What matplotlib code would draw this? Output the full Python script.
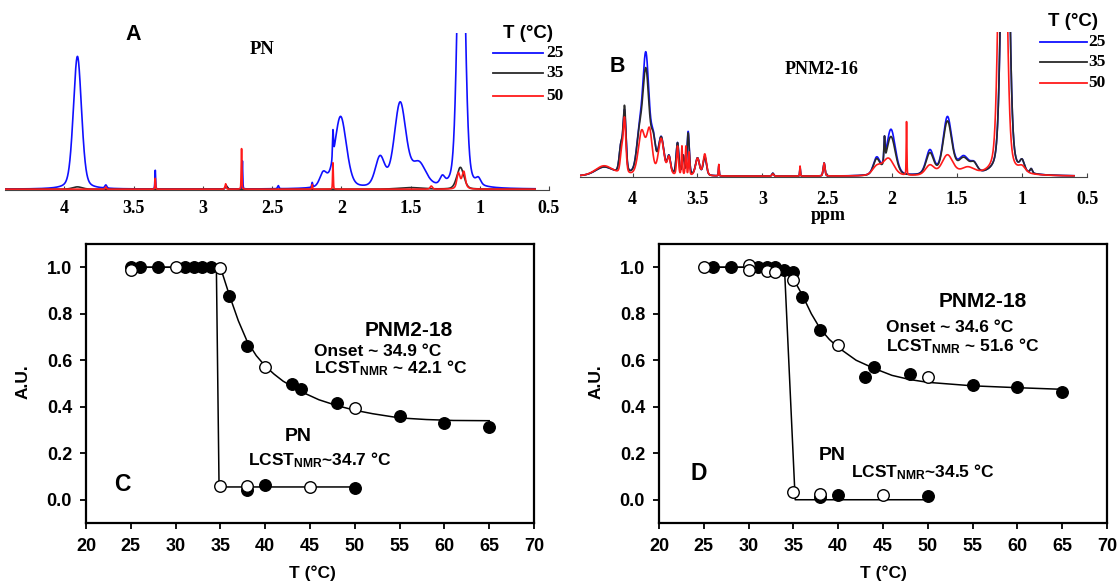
import numpy as np
import matplotlib
matplotlib.use('Agg')
import matplotlib.pyplot as plt
from matplotlib.lines import Line2D

plt.rcParams['mathtext.fontset'] = 'custom'
plt.rcParams['mathtext.rm'] = 'Liberation Sans:bold'
plt.rcParams['mathtext.default'] = 'rm'

# --------------------------
# Data: NMR peak tables (ppm, height, half-width)
# --------------------------
temps = ['25', '35', '50']
spec_colors = ['#1010ff', '#2a2a2a', '#ff1a1a']

pn_peaks_25 = [(3.905, 0.85, 0.035), (3.70, 0.02, 0.008), (3.343, 0.12, 0.003),
               (2.83, 0.02, 0.008), (2.714, 0.18, 0.003), (2.455, 0.02, 0.006),
               (2.21, 0.03, 0.004), (2.13, 0.09, 0.03), (2.06, 0.17, 0.004),
               (2.005, 0.46, 0.05), (1.72, 0.19, 0.04), (1.575, 0.54, 0.05),
               (1.44, 0.15, 0.06), (1.27, 0.05, 0.02), (1.134, 2.2, 0.03),
               (1.01, 0.04, 0.02)]
pn_peaks_35 = [(3.905, 0.015, 0.04), (2.83, 0.02, 0.01), (1.5, 0.01, 0.1),
               (1.14, 0.14, 0.03)]
pn_peaks_50 = [(3.70, 0.015, 0.005), (3.343, 0.07, 0.003), (2.835, 0.035, 0.005),
               (2.72, 0.26, 0.003), (2.21, 0.03, 0.003), (2.06, 0.17, 0.003),
               (1.35, 0.02, 0.01), (1.155, 0.08, 0.012), (1.115, 0.08, 0.012),
               (1.13, 0.04, 0.03)]

pnm_peaks_25 = [(4.22, 0.06, 0.08), (4.09, 0.18, 0.015), (4.062, 0.42, 0.013),
                (3.95, 0.22, 0.025), (3.898, 0.83, 0.03), (3.84, 0.2, 0.02),
                (3.78, 0.25, 0.025), (3.72, 0.12, 0.015), (3.654, 0.22, 0.012),
                (3.61, 0.13, 0.01), (3.572, 0.3, 0.01), (3.5, 0.12, 0.018),
                (3.444, 0.13, 0.015), (3.336, 0.07, 0.003), (2.92, 0.02, 0.008),
                (2.71, 0.06, 0.003), (2.525, 0.09, 0.008), (2.12, 0.12, 0.03),
                (2.06, 0.15, 0.005), (2.01, 0.32, 0.04), (1.71, 0.17, 0.035),
                (1.575, 0.40, 0.04), (1.45, 0.12, 0.05), (1.37, 0.06, 0.03),
                (1.13, 3.2, 0.03), (1.0, 0.07, 0.02), (0.93, 0.03, 0.01)]
pnm_peaks_35 = [(4.22, 0.06, 0.08), (4.09, 0.18, 0.015), (4.062, 0.45, 0.013),
                (3.95, 0.22, 0.025), (3.898, 0.72, 0.03), (3.84, 0.2, 0.02),
                (3.78, 0.25, 0.025), (3.72, 0.12, 0.015), (3.654, 0.22, 0.012),
                (3.61, 0.13, 0.01), (3.572, 0.29, 0.01), (3.5, 0.12, 0.018),
                (3.444, 0.13, 0.015), (3.336, 0.07, 0.003), (2.92, 0.02, 0.008),
                (2.71, 0.06, 0.003), (2.525, 0.09, 0.008), (2.12, 0.11, 0.03),
                (2.06, 0.17, 0.005), (2.01, 0.27, 0.04), (1.71, 0.15, 0.035),
                (1.575, 0.37, 0.04), (1.45, 0.11, 0.05), (1.37, 0.06, 0.03),
                (1.13, 3.2, 0.03), (1.0, 0.07, 0.02), (0.93, 0.03, 0.01)]
pnm_peaks_50 = [(4.22, 0.07, 0.08), (4.085, 0.14, 0.012), (4.062, 0.38, 0.012),
                (3.93, 0.3, 0.03), (3.87, 0.3, 0.025), (3.78, 0.25, 0.025),
                (3.72, 0.12, 0.015), (3.654, 0.2, 0.008), (3.62, 0.2, 0.005),
                (3.59, 0.2, 0.005), (3.565, 0.16, 0.005), (3.5, 0.12, 0.018),
                (3.444, 0.15, 0.015), (3.336, 0.08, 0.003), (2.92, 0.015, 0.008),
                (2.71, 0.07, 0.003), (2.525, 0.09, 0.008), (2.12, 0.06, 0.04),
                (2.03, 0.12, 0.05), (1.89, 0.37, 0.003), (1.71, 0.07, 0.04),
                (1.575, 0.14, 0.05), (1.42, 0.05, 0.06), (1.15, 3.2, 0.03),
                (1.0, 0.04, 0.03)]

# --------------------------
# Data: normalised intensity vs temperature
# --------------------------
c_pnm_fill_T = [25, 26, 28, 31, 32, 33, 34, 36, 38, 43, 44, 48, 55, 60, 65]
c_pnm_fill_y = [1.0, 1.0, 1.0, 1.0, 1.0, 1.0, 1.0, 0.875, 0.66, 0.50, 0.475, 0.415, 0.36, 0.33, 0.315]
c_pnm_open_T = [25, 30, 35, 40, 50]
c_pnm_open_y = [0.99, 1.0, 0.995, 0.57, 0.395]
c_pn_fill_T = [38, 40, 50]
c_pn_fill_y = [0.043, 0.062, 0.05]
c_pn_open_T = [35, 38, 45]
c_pn_open_y = [0.058, 0.058, 0.053]
c_fit_T = [25, 35, 36, 37, 38, 39, 40, 41, 42, 44, 46, 48, 50, 52, 55, 58, 61, 65]
c_fit_y = [1.0, 1.0, 0.88, 0.77, 0.68, 0.62, 0.575, 0.54, 0.51, 0.465, 0.43, 0.405,
           0.385, 0.37, 0.352, 0.345, 0.341, 0.34]
c_pn_line_T = [25, 34.55, 34.85, 50]
c_pn_line_y = [1.0, 1.0, 0.055, 0.055]

d_pnm_fill_T = [26, 28, 31, 32, 33, 34, 35, 36, 38, 43, 44, 48, 55, 60, 65]
d_pnm_fill_y = [1.0, 1.0, 1.0, 1.0, 1.0, 0.99, 0.98, 0.87, 0.73, 0.53, 0.57, 0.54, 0.493, 0.483, 0.465]
d_pnm_open_T = [25, 30, 30, 32, 33, 35, 40, 50]
d_pnm_open_y = [1.0, 1.01, 0.99, 0.985, 0.98, 0.945, 0.665, 0.527]
d_pn_fill_T = [38, 40, 50]
d_pn_fill_y = [0.012, 0.022, 0.014]
d_pn_open_T = [35, 38, 45]
d_pn_open_y = [0.033, 0.026, 0.022]
d_fit_T = [25, 34, 35, 36, 37, 38, 39, 40, 42, 44, 46, 48, 50, 55, 60, 65]
d_fit_y = [1.0, 1.0, 0.95, 0.88, 0.80, 0.735, 0.69, 0.655, 0.60, 0.565, 0.535, 0.517,
           0.505, 0.49, 0.482, 0.475]
d_pn_line_T = [25, 34.0, 35.2, 50]
d_pn_line_y = [1.0, 1.0, 0.0, 0.0]

# --------------------------
# Layout helpers (pixel boxes)
# --------------------------
W, H = 1119, 582
fig = plt.figure(figsize=(W / 100, H / 100), dpi=100)


def box(x0, y0, x1, y1):
    return [x0 / W, 1 - y1 / H, (x1 - x0) / W, (y1 - y0) / H]


def ftext(x, y, s, **kw):
    fig.text(x / W, 1 - y / H, s, **kw)


def spectrum(ppm, peaks, eta=0.3):
    out = np.zeros_like(ppm)
    for c, h, w in peaks:
        r = (ppm - c) / w
        out += h * (eta / (1 + r ** 2) + (1 - eta) * np.exp(-np.log(2) * r ** 2))
    return out


serif = dict(family='Liberation Serif', weight='bold')
sans = dict(family='Liberation Sans', weight='bold')

# --------------------------
# A and B: spectra
# --------------------------
spec_panels = [
    (box(5, 33, 549, 190), (4.428, 0.505), (4.428, 0.6), [pn_peaks_25, pn_peaks_35, pn_peaks_50], 7),
    (box(580, 32, 1087, 177), (4.405, 0.5), (4.405, 0.6), [pnm_peaks_25, pnm_peaks_35, pnm_peaks_50], 10),
]
for pos, xlim, prange, peak_sets, pad in spec_panels:
    ax = fig.add_axes(pos)
    ppm = np.linspace(prange[0], prange[1], 12000)
    for peaks, col in zip(peak_sets, spec_colors):
        ax.plot(ppm, spectrum(ppm, peaks), color=col, lw=1.2)
    ax.set_xlim(*xlim)
    ax.set_ylim(-0.005, 1.0)
    for s in ['top', 'left', 'right']:
        ax.spines[s].set_visible(False)
    ax.spines['bottom'].set_color('#444444')
    ax.set_yticks([])
    ax.set_xticks([4, 3.5, 3, 2.5, 2, 1.5, 1, 0.5])
    ax.set_xticklabels(['4', '3.5', '3', '2.5', '2', '1.5', '1', '0.5'], fontdict=serif, fontsize=13)
    ax.tick_params(axis='x', direction='in', length=3, pad=pad, color='#444444')
    ax.patch.set_alpha(0)

ftext(133, 34, 'A', fontsize=15.5, ha='center', va='center', **sans)
ftext(262, 50, 'PN', fontsize=13.5, ha='center', va='center', **serif)
ftext(617, 67, 'B', fontsize=15.5, ha='center', va='center', **sans)
ftext(822, 69, 'PNM2-16', fontsize=13, ha='center', va='center', **serif)
ftext(828, 216, 'ppm', fontsize=13, ha='center', va='center', **serif)

# legends
for hx, hy, lx0, lx1, ys, tx in [(528, 34, 493, 543, [53, 73, 96], 546),
                                  (1073, 22, 1040, 1087, [42, 62, 83], 1088)]:
    ftext(hx, hy, 'T (°C)', fontsize=13.5, ha='center', va='center', **sans)
    for yy, col, lab in zip(ys, spec_colors, temps):
        fig.add_artist(Line2D([lx0 / W, lx1 / W], [1 - yy / H, 1 - yy / H],
                              transform=fig.transFigure, color=col, lw=1.3))
        ftext(tx, yy, lab, fontsize=12.5, ha='left', va='center', **serif)

# --------------------------
# C and D: intensity vs T
# --------------------------
curve_panels = [
    (box(86, 244, 534, 523),
     (c_fit_T, c_fit_y), (c_pn_line_T, c_pn_line_y),
     (c_pnm_fill_T, c_pnm_fill_y), (c_pnm_open_T, c_pnm_open_y),
     (c_pn_fill_T, c_pn_fill_y), (c_pn_open_T, c_pn_open_y)),
    (box(659, 244, 1107, 523),
     (d_fit_T, d_fit_y), (d_pn_line_T, d_pn_line_y),
     (d_pnm_fill_T, d_pnm_fill_y), (d_pnm_open_T, d_pnm_open_y),
     (d_pn_fill_T, d_pn_fill_y), (d_pn_open_T, d_pn_open_y)),
]
axes_cd = []
for pos, fit, pnl, pf, po, nf, no in curve_panels:
    ax = fig.add_axes(pos)
    ax.plot(*fit, color='black', lw=1.1)
    ax.plot(*pnl, color='black', lw=1.1)
    for xs, ys in [pf, nf]:
        ax.plot(xs, ys, 'o', ms=8.3, mfc='black', mec='black', mew=1)
    for xs, ys in [po, no]:
        ax.plot(xs, ys, 'o', ms=8.3, mfc='white', mec='black', mew=1)
    ax.set_xlim(20, 70)
    ax.set_ylim(-0.1, 1.1)
    ax.set_xticks(range(20, 71, 5))
    ax.set_yticks([0.0, 0.2, 0.4, 0.6, 0.8, 1.0])
    ax.set_yticklabels(['0.0', '0.2', '0.4', '0.6', '0.8', '1.0'])
    for s in ax.spines.values():
        s.set_linewidth(1.6)
    ax.tick_params(direction='out', length=4, width=1.3, labelsize=13)
    ax.tick_params(axis='x', pad=7)
    ax.tick_params(axis='y', pad=6)
    for lab in ax.get_xticklabels() + ax.get_yticklabels():
        lab.set_fontfamily('Liberation Sans')
        lab.set_fontweight('bold')
    axes_cd.append(ax)

axC, axD = axes_cd

# panel C texts
axC.text(56.0, 0.729, 'PNM2-18', fontsize=15, ha='center', va='center', **sans)
axC.text(45.4, 0.639, 'Onset ~ 34.9 °C', fontsize=12.5, ha='left', va='center', **sans)
axC.text(45.4, 0.567, 'LCST$_{NMR}$ ~ 42.1 °C', fontsize=12.5, ha='left', va='center', **sans)
axC.text(43.7, 0.274, 'PN', fontsize=14, ha='center', va='center', **sans)
axC.text(38.1, 0.169, 'LCST$_{NMR}$~34.7 °C', fontsize=12.5, ha='left', va='center', **sans)
axC.text(24.0, 0.065, 'C', fontsize=16.5, ha='center', va='center', **sans)
ftext(23, 382, 'A.U.', fontsize=12.5, ha='center', va='center', rotation=90, **sans)
ftext(312, 573, 'T (°C)', fontsize=12.5, ha='center', va='center', **sans)

# panel D texts
axD.text(56.1, 0.851, 'PNM2-18', fontsize=15, ha='center', va='center', **sans)
axD.text(45.3, 0.739, 'Onset ~ 34.6 °C', fontsize=12.5, ha='left', va='center', **sans)
axD.text(45.3, 0.659, 'LCST$_{NMR}$ ~ 51.6 °C', fontsize=12.5, ha='left', va='center', **sans)
axD.text(39.3, 0.192, 'PN', fontsize=14, ha='center', va='center', **sans)
axD.text(41.4, 0.12, 'LCST$_{NMR}$~34.5 °C', fontsize=12.5, ha='left', va='center', **sans)
axD.text(24.4, 0.111, 'D', fontsize=16.5, ha='center', va='center', **sans)
ftext(596, 382, 'A.U.', fontsize=12.5, ha='center', va='center', rotation=90, **sans)
ftext(883, 573, 'T (°C)', fontsize=12.5, ha='center', va='center', **sans)

fig.savefig('out.png', dpi=100)
